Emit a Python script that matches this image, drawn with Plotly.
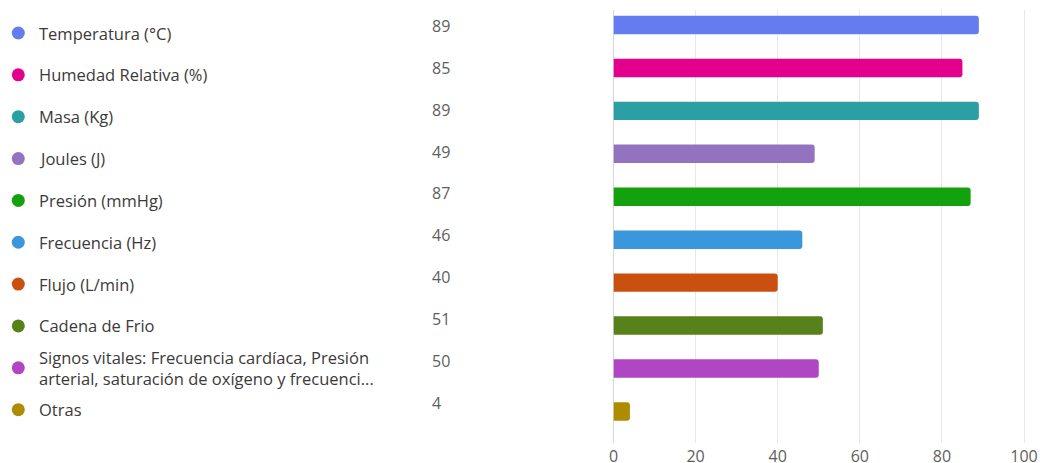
import plotly.graph_objects as go

# ---- data ----
categories = [
    "Temperatura (°C)",
    "Humedad Relativa (%)",
    "Masa (Kg)",
    "Joules (J)",
    "Presión (mmHg)",
    "Frecuencia (Hz)",
    "Flujo (L/min)",
    "Cadena de Frio",
    "Signos vitales: Frecuencia cardíaca, Presión<br>arterial, saturación de oxígeno y frecuenci...",
    "Otras",
]
values = [89, 85, 89, 49, 87, 46, 40, 51, 50, 4]
colors = ["#637CEF", "#E3008C", "#2AA0A4", "#9373C0", "#13A10E",
          "#3A96DD", "#CA5010", "#57811B", "#B146C2", "#AE8C00"]
x_ticks = [0, 20, 40, 60, 80, 100]

W, H = 1040, 463
idx = list(range(len(categories)))

fig = go.Figure()

# bars
fig.add_trace(go.Bar(
    x=values, y=idx, orientation="h",
    marker=dict(color=colors, line=dict(width=0), cornerradius=3),
    width=0.43, xaxis="x", yaxis="y", hoverinfo="skip", showlegend=False,
))

# legend dots
fig.add_trace(go.Scatter(
    x=[18.3] * len(idx), y=idx, mode="markers",
    marker=dict(color=colors, size=13, symbol="circle"),
    xaxis="x2", yaxis="y2", hoverinfo="skip", showlegend=False,
))

annotations = []
for i, (cat, v) in enumerate(zip(categories, values)):
    annotations.append(dict(
        x=37, y=i, xref="x2", yref="y2", text=cat, showarrow=False,
        xanchor="left", yanchor="middle", align="left",
        font=dict(family="Open Sans", size=16.5, color="#3b3a39"),
    ))
    annotations.append(dict(
        x=429.5, y=i, xref="x2", yref="y2", text=str(v), showarrow=False,
        xanchor="left", yanchor="middle", yshift=7,
        font=dict(family="Open Sans", size=16, color="#605e5c"),
    ))

x0_px, x100_px = 613.5, 1024.0
px_per_unit = (x100_px - x0_px) / 100
x_max = 102
top_px, bot_px = 10, 443
bar_c0, bar_step = 25.0, 42.94
leg_c0, leg_step = 33.0, 41.85

fig.update_layout(
    width=W, height=H, autosize=False,
    margin=dict(l=0, r=0, t=0, b=0, pad=0, autoexpand=False),
    paper_bgcolor="white", plot_bgcolor="white",
    barcornerradius=3,
    xaxis=dict(
        domain=[x0_px / W, (x0_px + x_max * px_per_unit) / W],
        range=[0, x_max], tickvals=x_ticks, showgrid=True,
        gridcolor="#e8e8e8", gridwidth=1, zeroline=True,
        zerolinecolor="#d6d6d6", zerolinewidth=1,
        showline=False, ticks="", ticklabelstandoff=2,
        tickfont=dict(family="Open Sans", size=16, color="#605e5c"),
        anchor="y", fixedrange=True, automargin=False,
    ),
    yaxis=dict(
        domain=[(H - bot_px) / H, (H - top_px) / H],
        range=[(bot_px - bar_c0) / bar_step, (top_px - bar_c0) / bar_step],
        showticklabels=False, showgrid=False, zeroline=False,
        anchor="x", fixedrange=True, automargin=False,
    ),
    xaxis2=dict(
        domain=[0, x0_px / W], range=[0, x0_px], visible=False,
        anchor="y2", fixedrange=True, automargin=False,
    ),
    yaxis2=dict(
        domain=[0, 1],
        range=[(H - leg_c0) / leg_step, (0 - leg_c0) / leg_step],
        visible=False, anchor="x2", fixedrange=True, automargin=False,
    ),
    annotations=annotations,
)

fig.write_html("out.html")
